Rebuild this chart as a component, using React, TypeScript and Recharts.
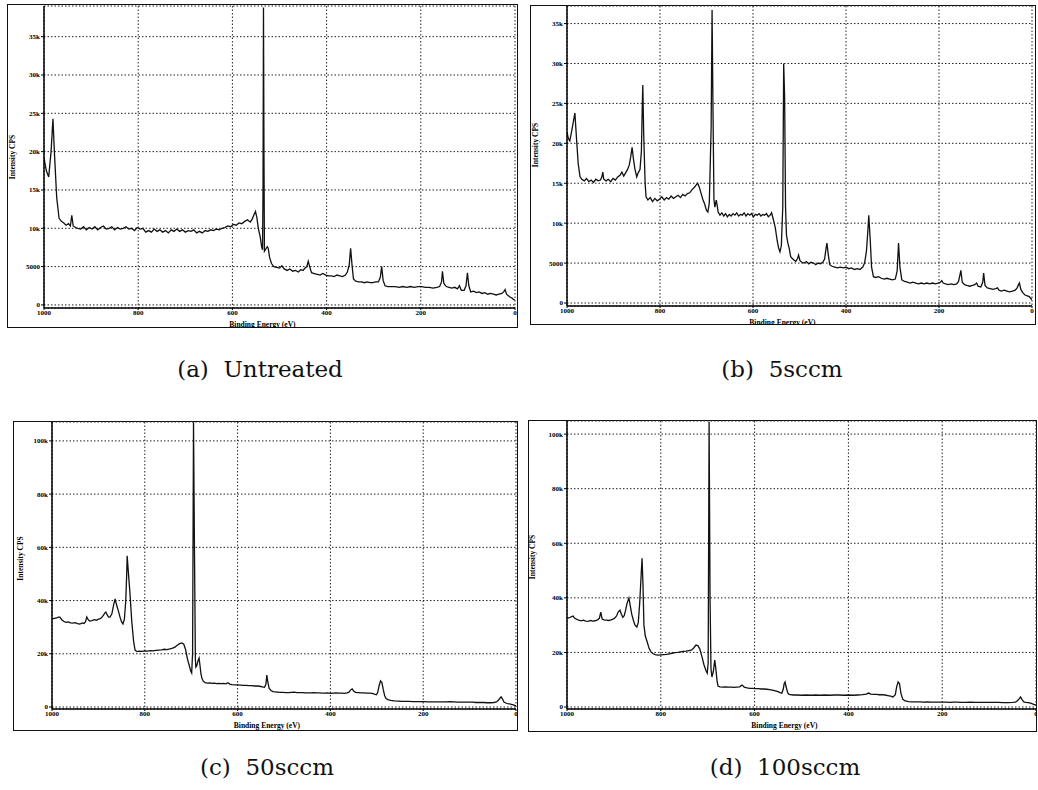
import React from 'react';
import { LineChart, Line, XAxis, YAxis, CartesianGrid, Label } from 'recharts';

// ---------- tick values & labels ----------
const energyTicks = [1000, 800, 600, 400, 200, 0];
const lowTicks = [0, 5000, 10000, 15000, 20000, 25000, 30000, 35000];
const lowTickLabels = ['0', '5000', '10k', '15k', '20k', '25k', '30k', '35k'];
const highTicks = [0, 20000, 40000, 60000, 80000, 100000];
const highTickLabels = ['0', '20k', '40k', '60k', '80k', '100k'];
const captions = ['(a)\u00a0\u00a0Untreated', '(b)\u00a0\u00a05sccm', '(c)\u00a0\u00a050sccm', '(d)\u00a0\u00a0100sccm'];
const xTitle = 'Binding Energy (eV)';
const yTitle = 'Intensity CPS';

// ---------- spectra: [binding energy eV, intensity CPS] ----------
const untreated: [number, number][] = [
  [1000, 19200], [995, 17500], [990, 16700], [985, 20000], [981, 24300], [978, 20000], [973, 14000], [968, 11300],
  [963, 10900], [958, 10700], [953, 10400], [948, 10600], [944, 10300], [941, 11700], [938, 10300], [933, 10100],
  [928, 10000], [922, 9900], [916, 10200], [910, 9800], [904, 10100], [898, 9900], [892, 10200], [886, 9800],
  [880, 10100], [874, 10300], [868, 9900], [862, 10000], [856, 10200], [850, 9800], [844, 10100], [838, 9900],
  [832, 10000], [826, 10200], [820, 9900], [814, 10000], [808, 9700], [802, 10100], [796, 9900], [790, 10000],
  [784, 9500], [778, 9700], [772, 9500], [766, 9900], [760, 9600], [754, 9800], [748, 9500], [742, 9700],
  [736, 9400], [730, 9800], [724, 9600], [718, 9900], [712, 9600], [706, 9800], [700, 9500], [694, 9700],
  [688, 9600], [682, 9800], [676, 9400], [670, 9600], [664, 9400], [658, 9700], [652, 9600], [646, 9800],
  [640, 9700], [634, 9900], [628, 9800], [622, 10000], [616, 10100], [610, 10300], [604, 10200], [598, 10500],
  [592, 10400], [586, 10700], [580, 10600], [574, 10900], [568, 11100], [562, 10800], [558, 11200], [554, 11800],
  [551, 12200], [548, 11400], [545, 10000], [541, 8900], [538, 7600], [536, 7200], [535, 15000], [534, 38800],
  [533, 20000], [532, 7000], [529, 7300], [526, 7600], [524, 7400], [521, 6200], [517, 5400], [512, 5000],
  [506, 4900], [500, 4800], [495, 5100], [490, 4700], [484, 4500], [478, 4700], [472, 4400], [466, 4500],
  [460, 4300], [455, 4600], [450, 4500], [446, 4800], [442, 5000], [439, 5700], [436, 5000], [432, 4200],
  [426, 4100], [420, 4000], [414, 3900], [408, 4100], [402, 3900], [396, 3800], [390, 3800], [384, 3700],
  [378, 3900], [372, 3800], [366, 3700], [360, 3900], [356, 4300], [352, 5200], [349, 7400], [346, 5200],
  [343, 3400], [338, 3100], [332, 3000], [326, 3000], [320, 2900], [314, 3000], [308, 2900], [302, 2900],
  [296, 3000], [290, 3000], [286, 3600], [283, 5000], [280, 3200], [276, 2500], [270, 2400], [262, 2400],
  [254, 2400], [246, 2300], [238, 2400], [230, 2300], [222, 2400], [214, 2300], [206, 2400], [198, 2400],
  [190, 2300], [182, 2300], [174, 2200], [166, 2300], [160, 2400], [156, 3000], [154, 4400], [151, 2800],
  [146, 2400], [140, 2300], [134, 2200], [128, 2300], [122, 2100], [118, 2500], [114, 1900], [108, 1900],
  [104, 2500], [101, 4200], [98, 2500], [94, 1700], [88, 1800], [82, 1600], [76, 1700], [70, 1500],
  [64, 1600], [58, 1400], [52, 1500], [46, 1400], [40, 1300], [34, 1400], [28, 1500], [24, 1700],
  [21, 2000], [18, 1400], [14, 1200], [10, 1000], [6, 900], [3, 700], [0, 650],
];

const sccm5: [number, number][] = [
  [1000, 21400], [997, 20600], [994, 20300], [990, 21500], [986, 22800], [983, 23800], [980, 21000], [976, 17500],
  [972, 15800], [968, 15500], [963, 15300], [958, 15600], [953, 15200], [948, 15400], [943, 15100], [938, 15500],
  [933, 15300], [928, 15400], [925, 15800], [923, 16400], [921, 15500], [916, 15300], [911, 15500], [906, 15200],
  [901, 15600], [896, 15400], [891, 15800], [886, 16000], [882, 16400], [878, 15900], [874, 16300], [870, 16700],
  [866, 17300], [863, 18300], [860, 19500], [857, 18000], [854, 16800], [850, 15800], [847, 16300], [843, 16700],
  [840, 19000], [838, 25000], [837, 27300], [835, 21000], [832, 15000], [830, 13300], [826, 12900], [821, 13200],
  [816, 12700], [811, 13100], [806, 12800], [801, 13000], [796, 13300], [791, 12900], [786, 13200], [781, 13000],
  [776, 13400], [771, 13100], [766, 13300], [761, 13500], [756, 13200], [751, 13600], [746, 13400], [741, 13700],
  [736, 13800], [731, 14200], [726, 14500], [722, 14800], [719, 15000], [716, 14600], [712, 13800], [708, 13000],
  [704, 12400], [700, 11600], [697, 11400], [694, 12500], [690, 22000], [688, 36700], [686, 24000], [684, 13000],
  [682, 12000], [679, 12900], [677, 12200], [675, 11400], [671, 11000], [667, 11300], [663, 10900], [659, 11200],
  [655, 10800], [651, 11100], [647, 10900], [643, 11200], [639, 11000], [635, 11300], [631, 10900], [627, 11100],
  [623, 11000], [619, 11300], [615, 10900], [611, 11200], [607, 11000], [603, 11200], [599, 10800], [595, 11100],
  [591, 11000], [587, 11200], [583, 10900], [579, 11100], [575, 11000], [571, 11200], [567, 10800], [563, 11000],
  [560, 11300], [556, 10400], [552, 9400], [548, 7800], [545, 6900], [542, 6400], [539, 7200], [536, 12000],
  [534, 30000], [532, 25800], [530, 12000], [528, 8500], [525, 7500], [522, 6800], [519, 5800], [516, 5600],
  [512, 5400], [508, 5200], [504, 5600], [502, 6000], [499, 5300], [495, 5100], [490, 5000], [485, 5200],
  [480, 4900], [475, 5100], [470, 5000], [465, 4800], [460, 5000], [455, 4900], [450, 5100], [446, 5500],
  [443, 6800], [441, 7500], [438, 6000], [435, 4800], [430, 4600], [424, 4500], [418, 4400], [412, 4500],
  [406, 4400], [400, 4500], [394, 4300], [388, 4400], [382, 4200], [376, 4300], [370, 4200], [364, 4500],
  [360, 5000], [356, 6500], [353, 9000], [351, 11000], [348, 8000], [345, 4500], [341, 3300], [336, 3200],
  [330, 3300], [324, 3100], [318, 3000], [312, 3100], [306, 3000], [300, 2900], [294, 3000], [290, 4000],
  [287, 7500], [284, 4500], [280, 2900], [274, 2700], [268, 2600], [262, 2500], [256, 2600], [250, 2500],
  [244, 2400], [238, 2500], [232, 2400], [226, 2500], [220, 2400], [214, 2500], [208, 2400], [202, 2500],
  [197, 2600], [194, 2800], [191, 2500], [186, 2400], [180, 2300], [174, 2400], [168, 2300], [162, 2400],
  [158, 2700], [155, 3500], [153, 4100], [150, 2600], [145, 2300], [140, 2200], [134, 2100], [128, 2200],
  [123, 2300], [119, 2500], [116, 2100], [110, 2000], [106, 2600], [104, 3750], [101, 2200], [96, 1900],
  [90, 1800], [84, 1700], [78, 1800], [74, 1900], [71, 1600], [66, 1500], [60, 1600], [54, 1500],
  [48, 1400], [42, 1500], [36, 1600], [32, 1900], [29, 2300], [27, 2500], [24, 1700], [20, 1300],
  [15, 1000], [10, 900], [6, 800], [3, 600], [0, 400],
];

const sccm50: [number, number][] = [
  [1000, 33100], [995, 33300], [990, 33500], [986, 33800], [983, 33800], [979, 32800], [975, 32200], [970, 31800],
  [965, 32000], [960, 31600], [955, 31500], [950, 31700], [945, 31300], [940, 31200], [935, 31600], [931, 31400],
  [928, 32000], [925, 33800], [922, 32800], [919, 32300], [914, 32500], [909, 32800], [904, 32600], [900, 33000],
  [897, 33100], [893, 33600], [889, 34500], [886, 35400], [884, 35700], [881, 34600], [878, 33800], [875, 33800],
  [871, 35000], [867, 38500], [864, 40600], [861, 38500], [857, 36100], [853, 33500], [850, 32000], [847, 31200],
  [844, 33000], [841, 40000], [839, 50000], [838, 56800], [836, 52000], [832, 42900], [828, 32000], [824, 24500],
  [821, 21400], [817, 20800], [812, 21000], [806, 20900], [800, 21100], [794, 21000], [788, 21200], [782, 21100],
  [776, 21300], [770, 21400], [764, 21500], [758, 21700], [752, 21600], [746, 21800], [740, 22100], [735, 22500],
  [730, 23200], [725, 23800], [720, 24100], [716, 23600], [712, 21500], [708, 18000], [704, 15500], [701, 13500],
  [699, 12800], [697, 20000], [695, 107000], [693, 60000], [691, 18000], [690, 15000], [688, 15500], [685, 17600],
  [683, 18400], [681, 15500], [679, 12500], [677, 10900], [674, 9700], [670, 9200], [665, 9000], [660, 9100],
  [655, 8900], [650, 9000], [645, 8800], [640, 8900], [635, 8800], [630, 8900], [625, 8700], [621, 9100],
  [617, 8600], [612, 8400], [606, 8300], [600, 8300], [594, 8200], [588, 8100], [582, 8100], [576, 8000],
  [570, 8000], [564, 7900], [558, 7900], [552, 7800], [547, 7600], [542, 7400], [539, 8500], [537, 12000],
  [535, 9500], [532, 7000], [528, 6200], [524, 5800], [519, 5700], [514, 5600], [508, 5500], [502, 5500],
  [496, 5400], [490, 5400], [484, 5500], [478, 5600], [472, 5400], [466, 5400], [460, 5400], [454, 5300],
  [448, 5300], [442, 5300], [436, 5400], [430, 5300], [424, 5300], [418, 5200], [412, 5200], [406, 5300],
  [400, 5100], [394, 5200], [388, 5300], [382, 5200], [376, 5200], [370, 5100], [364, 5300], [360, 5600],
  [356, 6500], [353, 6800], [350, 6000], [346, 5500], [340, 5400], [334, 5300], [328, 5300], [322, 5200],
  [316, 5200], [310, 5100], [305, 4800], [301, 4600], [298, 5500], [295, 8000], [292, 9800], [289, 9200],
  [286, 6500], [283, 4200], [280, 3200], [276, 2800], [270, 2500], [262, 2300], [254, 2200], [246, 2100],
  [238, 2100], [230, 2100], [222, 2000], [214, 2000], [206, 2000], [198, 2000], [190, 1900], [182, 1900],
  [174, 1900], [166, 1900], [158, 1900], [150, 1900], [142, 2000], [134, 1900], [126, 1800], [118, 1800],
  [110, 1800], [102, 1800], [94, 1800], [86, 1700], [78, 1700], [70, 1700], [62, 1600], [55, 1600],
  [48, 1700], [42, 1900], [38, 2500], [35, 3200], [32, 3800], [29, 3000], [26, 1900], [22, 1500],
  [18, 1300], [14, 1200], [10, 1000], [6, 800], [3, 600], [0, 400],
];

const sccm100: [number, number][] = [
  [1000, 32900], [997, 32600], [994, 32800], [990, 33100], [987, 33300], [984, 32600], [980, 32200], [975, 31800],
  [970, 31600], [965, 31800], [960, 31500], [955, 31400], [950, 31700], [945, 31500], [940, 31600], [935, 31900],
  [931, 32500], [928, 34800], [925, 32200], [921, 31900], [916, 31800], [911, 31700], [906, 31900], [902, 32200],
  [898, 32600], [894, 33500], [891, 34800], [887, 35500], [884, 34000], [881, 32900], [878, 33500], [875, 35500],
  [872, 38000], [868, 39900], [865, 37000], [862, 34000], [858, 31500], [855, 30000], [851, 29300], [848, 31000],
  [845, 38000], [842, 48000], [840, 54500], [838, 45000], [836, 30000], [833, 26000], [829, 23800], [825, 21500],
  [821, 20200], [817, 19600], [812, 19200], [806, 19000], [800, 19100], [794, 19200], [788, 19300], [782, 19500],
  [776, 19700], [770, 19900], [764, 20000], [758, 20200], [752, 20400], [746, 20500], [740, 20700], [734, 20900],
  [729, 21800], [725, 22700], [721, 22500], [717, 21300], [712, 18300], [708, 15500], [704, 13500], [701, 12400],
  [699, 16000], [697, 104500], [695, 40000], [693, 14000], [691, 11000], [688, 13000], [685, 17200], [683, 14500],
  [680, 9500], [678, 7700], [674, 7400], [668, 7300], [662, 7400], [656, 7300], [650, 7300], [644, 7200],
  [638, 7300], [632, 7400], [628, 7900], [626, 8000], [622, 7300], [616, 7000], [610, 6800], [604, 6800],
  [598, 6700], [592, 6700], [586, 6600], [580, 6600], [574, 6500], [568, 6400], [562, 6200], [556, 5900],
  [550, 5600], [546, 5300], [542, 5100], [539, 6500], [537, 8500], [535, 9200], [533, 7500], [530, 5600],
  [528, 4800], [524, 4500], [518, 4400], [510, 4400], [500, 4300], [490, 4400], [480, 4300], [470, 4400],
  [460, 4300], [450, 4400], [440, 4300], [430, 4400], [420, 4400], [410, 4300], [400, 4400], [390, 4300],
  [380, 4400], [370, 4500], [362, 4700], [357, 5100], [352, 4700], [346, 4600], [340, 4600], [334, 4500],
  [328, 4500], [322, 4400], [316, 4200], [310, 4000], [305, 3700], [300, 4500], [297, 7500], [294, 9200],
  [291, 8500], [288, 5000], [284, 2800], [279, 2200], [272, 2000], [264, 1900], [256, 1900], [248, 1900],
  [240, 1800], [232, 1900], [224, 1800], [216, 1800], [208, 1800], [200, 1800], [192, 1800], [184, 1700],
  [176, 1800], [168, 1800], [160, 1700], [150, 1700], [140, 1800], [130, 1700], [120, 1700], [110, 1700],
  [100, 1700], [90, 1700], [80, 1700], [70, 1600], [60, 1600], [50, 1700], [44, 1800], [40, 2200],
  [36, 3000], [33, 3700], [30, 2800], [26, 1900], [22, 1700], [16, 1600], [10, 1300], [5, 1000], [0, 700],
];

// ---------- layout (positions / sizes / styles) ----------
const panels = [
  { spectrum: untreated, ticks: lowTicks, labels: lowTickLabels, yMin: -400, yMax: 39000,
    left: 7, top: 4, width: 511, height: 324, margin: { top: 2, right: 3, left: 7, bottom: 0 }, xHeight: 20,
    yTitleDx: -32, yTitleDy: 0, capX: 260, capY: 377 },
  { spectrum: sccm5, ticks: lowTicks, labels: lowTickLabels, yMin: -375, yMax: 37200,
    left: 530, top: 5, width: 506, height: 320, margin: { top: 1, right: 4, left: 7, bottom: 0 }, xHeight: 19,
    yTitleDx: -32, yTitleDy: -11, capX: 782, capY: 377 },
  { spectrum: sccm50, ticks: highTicks, labels: highTickLabels, yMin: -750, yMax: 107100,
    left: 13, top: 421, width: 505, height: 310, margin: { top: 1, right: 2, left: 9, bottom: 0 }, xHeight: 22,
    yTitleDx: -32, yTitleDy: -7, capX: 267, capY: 775 },
  { spectrum: sccm100, ticks: highTicks, labels: highTickLabels, yMin: -730, yMax: 104800,
    left: 528, top: 420, width: 509, height: 312, margin: { top: 1, right: 1, left: 9, bottom: 0 }, xHeight: 23,
    yTitleDx: -35, yTitleDy: -8, capX: 785, capY: 775 },
];

const tinyFont = '"Liberation Serif", "Times New Roman", serif';
const tickStyle = { fontSize: 7, fontWeight: 700, fill: '#000', fontFamily: tinyFont };

function Panel({ p }: { p: (typeof panels)[number] }) {
  const data = p.spectrum.map(([ev, cps]) => ({ ev, cps }));
  const xTitleContent = (props: any) => {
    const vb = props.viewBox || {};
    return (
      <text x={vb.x + vb.width / 2 - 17} y={vb.y + 16} textAnchor="middle" dominantBaseline="central"
        style={{ fontSize: 7.5, fontWeight: 700, fontFamily: tinyFont, fill: '#000' }}>{xTitle}</text>
    );
  };
  const yTitleContent = (props: any) => {
    const vb = props.viewBox || {};
    const cx = vb.x + vb.width + p.yTitleDx;
    const cy = vb.y + vb.height / 2 + p.yTitleDy;
    return (
      <text x={cx} y={cy} textAnchor="middle" dominantBaseline="central" transform={`rotate(-90, ${cx}, ${cy})`}
        style={{ fontSize: 7.5, fontWeight: 700, fontFamily: tinyFont, fill: '#000' }}>{yTitle}</text>
    );
  };
  return (
    <>
      <div style={{ position: 'absolute', left: p.left, top: p.top, width: p.width, height: p.height,
        border: '1.5px solid #111', boxSizing: 'border-box' }} />
      <div style={{ position: 'absolute', left: p.left, top: p.top }}>
        <LineChart width={p.width} height={p.height} data={data} margin={p.margin}>
          <CartesianGrid stroke="#222" strokeWidth={1} strokeDasharray="1.5 2" />
          <XAxis type="number" dataKey="ev" domain={[0, 1000]} reversed ticks={energyTicks} interval={0}
            allowDataOverflow height={p.xHeight} tickSize={2} tickMargin={0} tick={tickStyle}
            axisLine={{ stroke: '#000', strokeWidth: 1.5 }} tickLine={{ stroke: '#000' }}>
            <Label content={xTitleContent} />
          </XAxis>
          <YAxis type="number" domain={[p.yMin, p.yMax]} ticks={p.ticks} interval={0} allowDataOverflow
            width={30} tickSize={3} tickMargin={1} tick={tickStyle}
            tickFormatter={(v: number) => p.labels[p.ticks.indexOf(v)] ?? ''}
            axisLine={{ stroke: '#000', strokeWidth: 1.5 }} tickLine={{ stroke: '#000' }}>
            <Label content={yTitleContent} />
          </YAxis>
          <Line type="linear" dataKey="cps" stroke="#111" strokeWidth={1.3} dot={false} isAnimationActive={false} />
        </LineChart>
      </div>
    </>
  );
}

export default function App() {
  return (
    <div style={{ position: 'absolute', left: 0, top: 0, width: 1038, height: 790, background: '#fff', overflow: 'hidden' }}>
      {panels.map((p, i) => <Panel key={i} p={p} />)}
      <svg width={1038} height={790} style={{ position: 'absolute', left: 0, top: 0, pointerEvents: 'none' }}>
        {panels.map((p, i) => (
          <text key={i} x={p.capX} y={p.capY} textAnchor="middle"
            style={{ fontSize: 23, fontFamily: '"DejaVu Serif", "Liberation Serif", serif', fill: '#111' }}>
            {captions[i]}
          </text>
        ))}
      </svg>
    </div>
  );
}
